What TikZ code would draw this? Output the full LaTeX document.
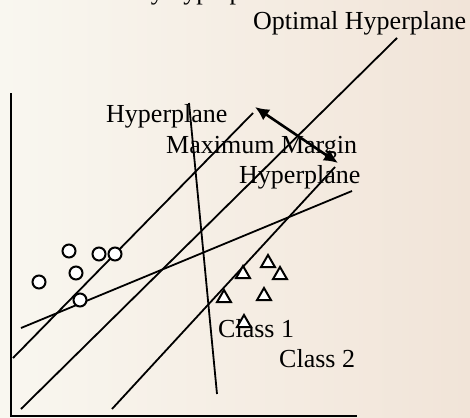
\documentclass[tikz,border=0pt]{standalone}
\usepackage{fontspec}
\setmainfont{Liberation Serif}
\usetikzlibrary{arrows.meta,shapes.geometric}
\definecolor{bgL}{RGB}{249,247,240}
\definecolor{bgR}{RGB}{241,228,216}
\begin{document}
\begin{tikzpicture}[x=1pt,y=-1pt,
  lbl/.style={anchor=base west,inner sep=0pt,font=\fontsize{26}{30}\selectfont},
  hline/.style={line width=1.8pt},
  pt/.style={circle,draw,fill=white,line width=2pt,minimum size=13pt,inner sep=0pt},
  tri/.style={regular polygon,regular polygon sides=3,draw,fill=white,line width=2pt,minimum size=16pt,inner sep=0pt},
  marg/.style={line width=2.6pt,{Latex[length=14pt,width=13pt]}-{Latex[length=14pt,width=13pt]}}
]
\useasboundingbox (0,0) rectangle (470,417);
\clip (0,0) rectangle (470,417);
\shade[left color=bgL,right color=bgR] (0,0) rectangle (470,417);

% labels
\node[lbl] (many) at (103,-0.5) {Many hyperplanes};
\node[lbl] (opt) at (253,30) {Optimal Hyperplane};
\node[lbl] (hyp) at (106,122) {Hyperplane};
\node[lbl] (mm) at (166,153) {Maximum Margin};
\node[lbl] (mmh) at (239,183) {Hyperplane};
\node[lbl] (c1) at (218,337) {Class 1};
\node[lbl] (c2) at (279,367) {Class 2};

% axes
\coordinate (ytop) at (11,93);
\coordinate (org) at (11,415.5);
\coordinate (xend) at (357,415.5);
\draw[line width=2pt] (ytop) -- (org) -- (xend);

% hyperplanes
\coordinate (h1a) at (189,103); \coordinate (h1b) at (217,394);
\coordinate (ua) at (253,113);  \coordinate (ub) at (13,358);
\coordinate (oa) at (397,38);   \coordinate (ob) at (21,409);
\coordinate (la) at (335,167);  \coordinate (lb) at (112,409);
\coordinate (da) at (352,191);  \coordinate (db) at (21,328);
\draw[hline] (h1a) -- (h1b);
\draw[hline] (ua) -- (ub);
\draw[hline] (oa) -- (ob);
\draw[hline] (la) -- (lb);
\draw[hline] (da) -- (db);

% margin arrow
\coordinate (m1) at (255,107);
\coordinate (m2) at (338,163);
\draw[marg] (m1) -- (m2);

% class points
\node[pt] (p1) at (69,251) {};
\node[pt] (p2) at (99,254) {};
\node[pt] (p3) at (115,254) {};
\node[pt] (p4) at (76,273) {};
\node[pt] (p5) at (39,282) {};
\node[pt] (p6) at (80,300) {};

\node[tri] (t1) at (268,263) {};
\node[tri] (t2) at (243,274) {};
\node[tri] (t3) at (280,275) {};
\node[tri] (t4) at (224,298) {};
\node[tri] (t5) at (264,296) {};
\node[tri] (t6) at (244,323) {};
\end{tikzpicture}
\end{document}
